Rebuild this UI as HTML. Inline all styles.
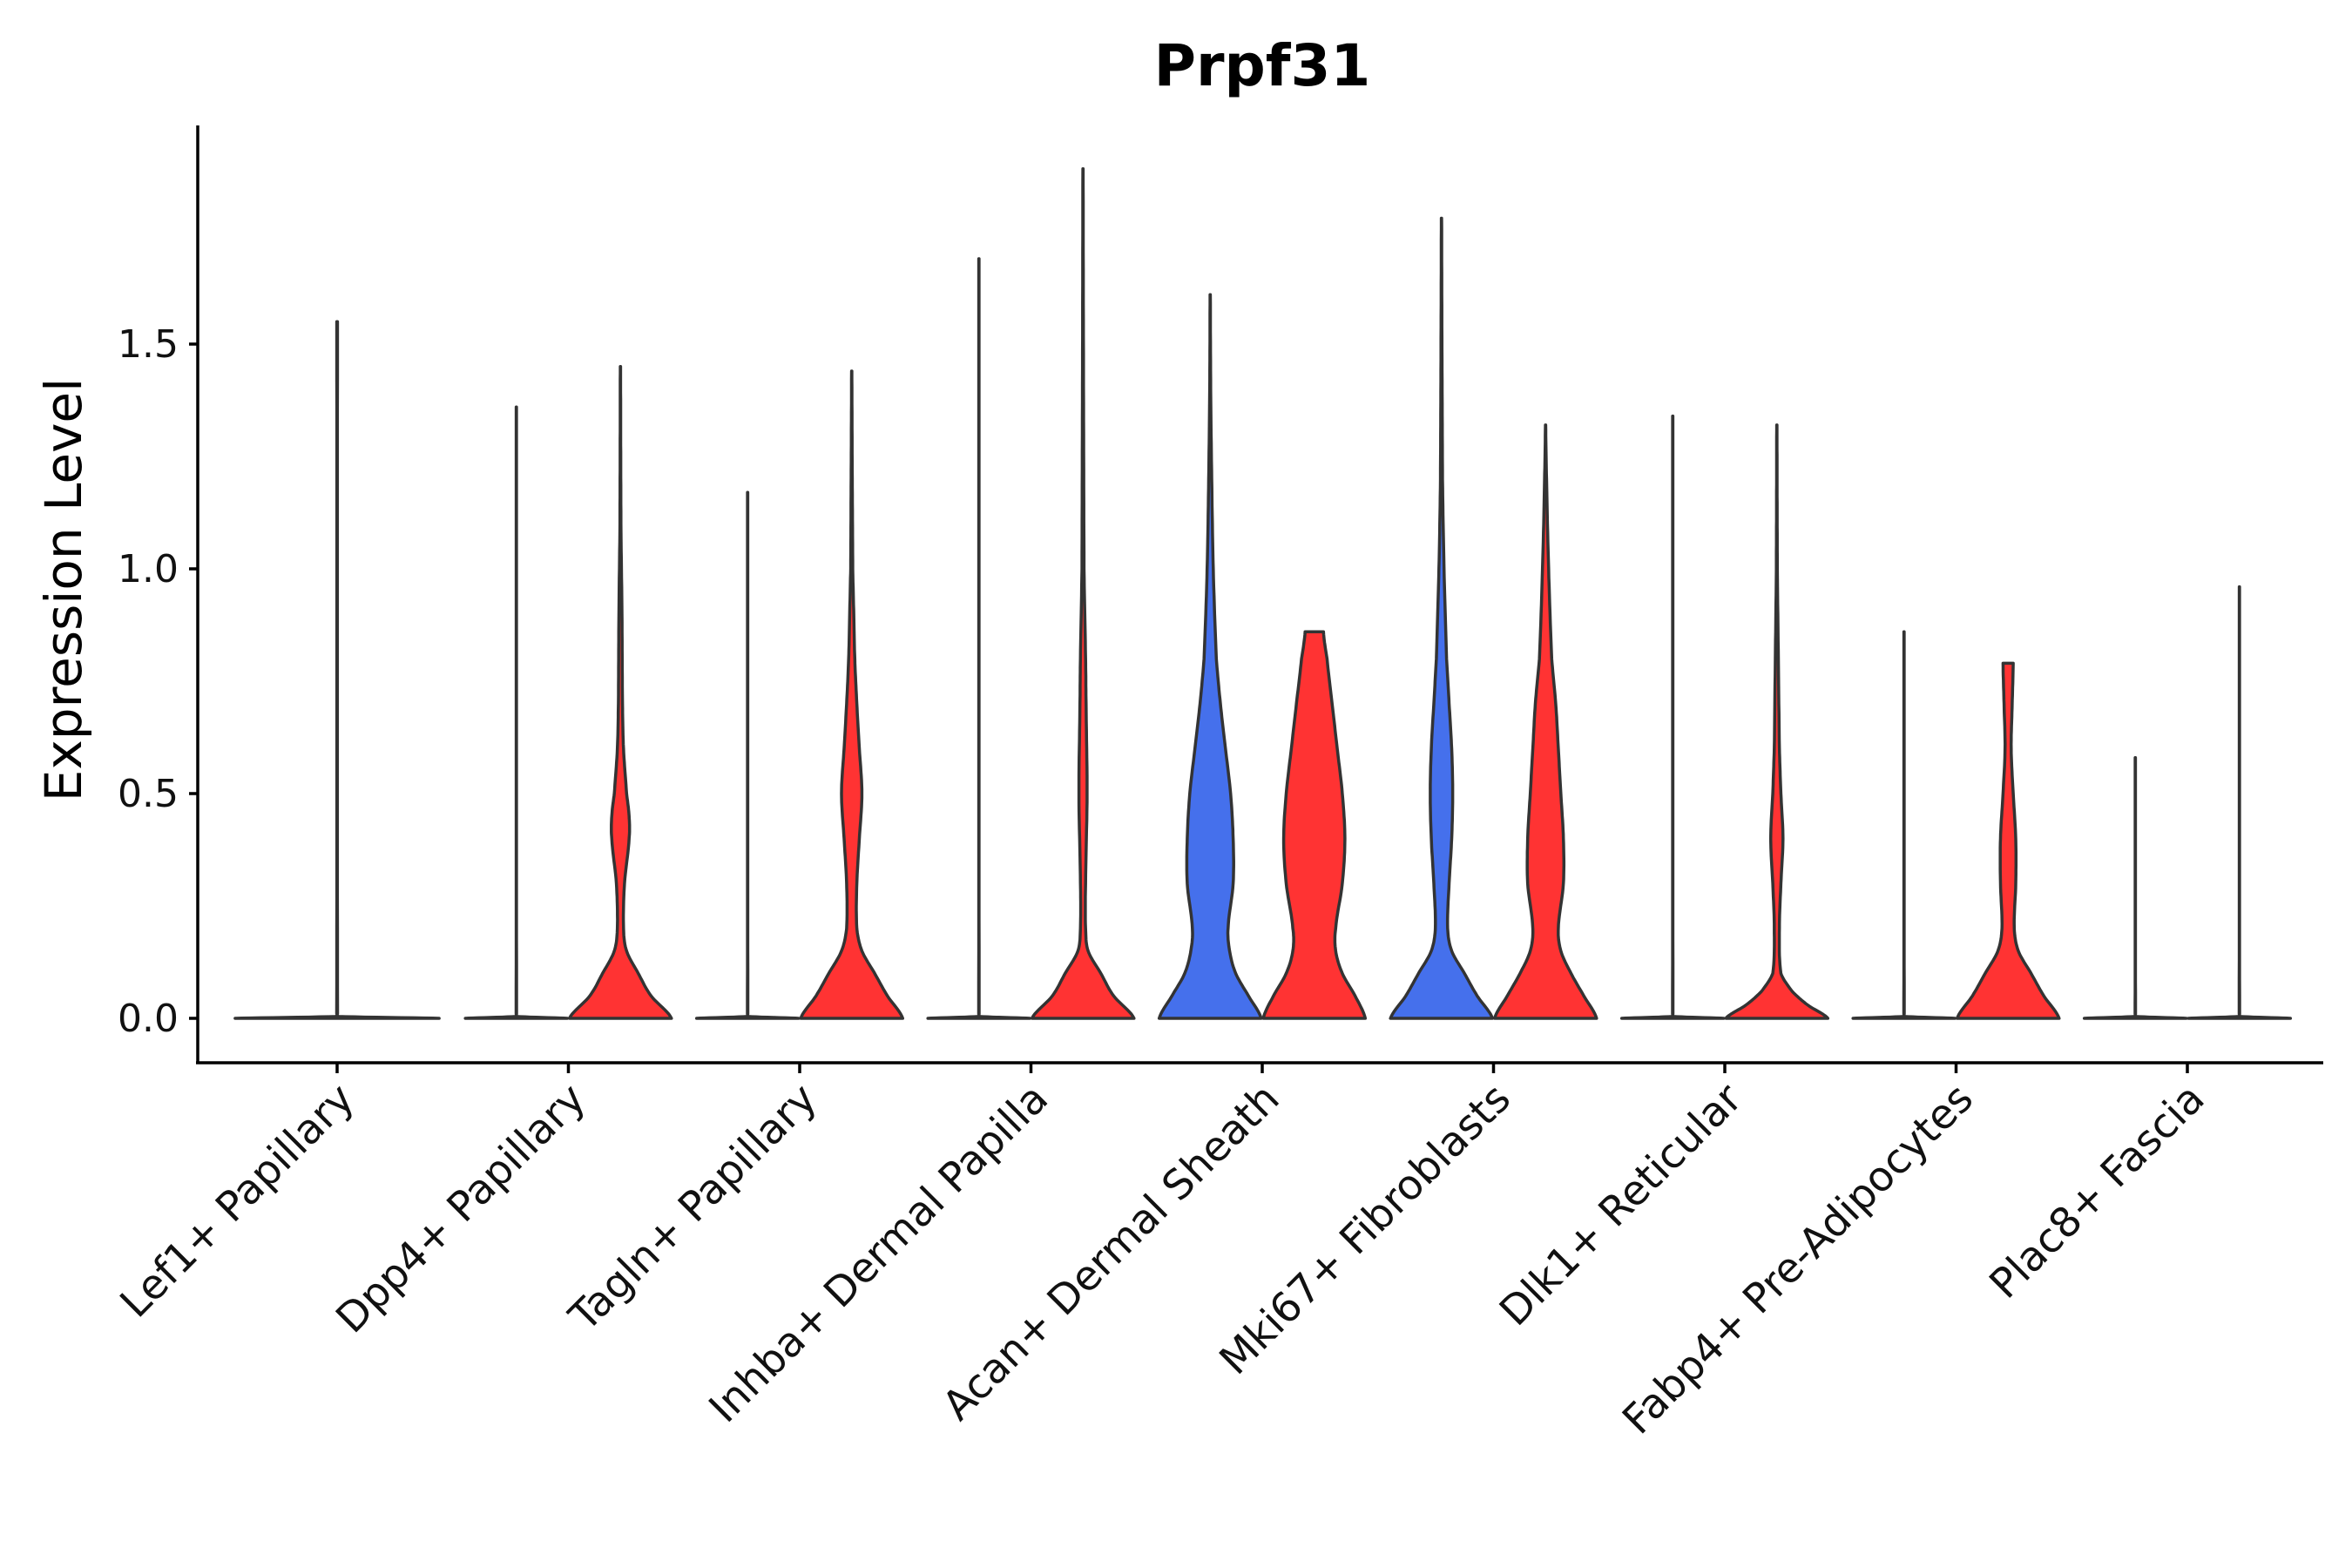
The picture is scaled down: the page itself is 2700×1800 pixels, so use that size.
<!DOCTYPE html>
<html><head><meta charset="utf-8"><style>
html,body{margin:0;padding:0;background:#fff}
svg{display:block;font-family:"DejaVu Sans","Liberation Sans",sans-serif}
</style></head><body>
<svg id="chart" width="2700" height="1800" viewBox="0 0 2700 1800" xmlns="http://www.w3.org/2000/svg">
<rect width="2700" height="1800" fill="#fff"/>
<text x="1449" y="98" text-anchor="middle" font-size="66" font-weight="bold">Prpf31</text>
<text transform="translate(93,677) rotate(-90)" text-anchor="middle" font-size="58">Expression Level</text>
<g id="axes"></g>
<g id="marks"></g>
</svg>
<script>
const categories = ["Lef1+ Papillary","Dpp4+ Papillary","Tagln+ Papillary","Inhba+ Dermal Papilla","Acan+ Dermal Sheath","Mki67+ Fibroblasts","Dlk1+ Reticular","Fabp4+ Pre-Adipocytes","Plac8+ Fascia"];
const yTicks = [0, 0.5, 1.0, 1.5];
const yTickLabels = ["0.0","0.5","1.0","1.5"];
const violinCat = [0,1,1,2,2,3,3,4,4,5,5,6,6,7,7,8,8];
const violinGroup = [-1,0,1,0,1,0,1,0,1,0,1,0,1,0,1,0,1];
const violinMax = [1.55,1.36,1.45,1.17,1.44,1.69,1.89,1.61,0.86,1.78,1.32,1.34,1.32,0.86,0.79,0.58,0.96];
const violinFill = ["#fff","#fff","#FF3333","#fff","#FF3333","#fff","#FF3333","#4570EC","#FF3333","#4570EC","#FF3333","#fff","#FF3333","#fff","#FF3333","#fff","#fff"];
const flatLevels = [0,0.004,0.01];
const flatWidths = [1,0.02,0.004];
const violinLevels = [
 flatLevels, flatLevels,
 [0,0.05,0.1,0.15,0.2,0.3,0.4,0.45,0.5,0.6,0.7,0.9,1.1],
 flatLevels,
 [0,0.05,0.1,0.15,0.2,0.3,0.4,0.5,0.6,0.7,0.8,0.9,1.0],
 flatLevels,
 [0,0.05,0.1,0.15,0.2,0.3,0.5,0.7,0.8,1.0],
 [0,0.05,0.1,0.15,0.2,0.3,0.4,0.5,0.6,0.7,0.8,1.0,1.2,1.4],
 [0,0.05,0.1,0.15,0.2,0.3,0.4,0.5,0.6,0.7,0.8,0.86],
 [0,0.05,0.1,0.15,0.2,0.3,0.4,0.5,0.6,0.7,0.8,1.0,1.2],
 [0,0.05,0.1,0.15,0.2,0.3,0.4,0.5,0.6,0.7,0.8,1.0,1.2],
 flatLevels,
 [0,0.03,0.06,0.1,0.2,0.3,0.4,0.5,0.6,0.8,1.0],
 flatLevels,
 [0,0.05,0.1,0.15,0.2,0.3,0.4,0.5,0.6,0.7,0.79],
 flatLevels, flatLevels
];
const violinWidths = [
 flatWidths, flatWidths,
 [1,0.6,0.35,0.12,0.06,0.08,0.17,0.17,0.12,0.06,0.04,0.03,0.01],
 flatWidths,
 [1,0.7,0.45,0.2,0.1,0.1,0.15,0.2,0.15,0.1,0.06,0.04,0.02],
 flatWidths,
 [1,0.6,0.35,0.1,0.05,0.05,0.08,0.06,0.05,0.02],
 [1,0.75,0.5,0.38,0.35,0.45,0.45,0.4,0.3,0.2,0.12,0.06,0.03,0.01],
 [1,0.8,0.55,0.42,0.42,0.55,0.6,0.55,0.45,0.35,0.25,0.18],
 [1,0.7,0.45,0.2,0.12,0.15,0.2,0.22,0.2,0.15,0.1,0.05,0.02],
 [1,0.75,0.5,0.3,0.25,0.35,0.35,0.3,0.25,0.2,0.12,0.06,0.02],
 flatWidths,
 [1,0.6,0.3,0.08,0.05,0.08,0.12,0.08,0.05,0.03,0.01],
 flatWidths,
 [1,0.7,0.45,0.2,0.12,0.15,0.15,0.1,0.06,0.08,0.1],
 flatWidths, flatWidths
];
</script>
<script>
const NS="http://www.w3.org/2000/svg";
const X0=387, DX=265.5, Y0=1169, YPX=516;
function xScale(i){return X0+i*DX;}
function yScale(v){return Y0-v*YPX;}
const axes=document.getElementById('axes'), marks=document.getElementById('marks');
function mk(tag,attrs,parent){const e=document.createElementNS(NS,tag);for(const k in attrs)e.setAttribute(k,attrs[k]);parent.appendChild(e);return e;}
let a=mk('line',{x1:227,y1:144,x2:227,y2:1220,stroke:'#000','stroke-width':3.5},axes);


a=mk('line',{x1:225,y1:1220,x2:2667,y2:1220,stroke:'#000','stroke-width':3.5},axes);


yTicks.forEach((v,i)=>{
  const y=yScale(v);
  const t=mk('line',{x1:217,y1:y,x2:227,y2:y,stroke:'#000','stroke-width':3.5},axes);
  
  
  const l=mk('text',{x:205,y:y+15,'text-anchor':'end','font-size':44,fill:'#111'},axes);
  l.textContent=yTickLabels[i];
  
  
});
categories.forEach((c,i)=>{
  const x=xScale(i);
  const t=mk('line',{x1:x,y1:1220,x2:x,y2:1232,stroke:'#000','stroke-width':3.5},axes);
  
  
  const l=mk('text',{transform:`translate(${x+22},${1264}) rotate(-45)`,'text-anchor':'end','font-size':47,fill:'#111'},axes);
  l.textContent=c;
  
  
});
const HALF=DX*0.225;
violinCat.forEach((ci,k)=>{
  const g=violinGroup[k];
  const cx = g<0 ? xScale(ci) : xScale(ci)+(g===0?-HALF:HALF);
  const hw = g<0 ? HALF*2*0.98 : HALF*0.98;
  const lv=violinLevels[k].slice(), wd=violinWidths[k].slice();
  const mx=violinMax[k];
  if(lv[lv.length-1]<mx){lv.push(mx);wd.push(lv.length>4&&wd[wd.length-1]>0.05?wd[wd.length-1]:0.003);}
  const n=lv.length, pts=[];
  const W=i=>wd[Math.max(0,Math.min(n-1,i))];
  const L=i=>lv[Math.max(0,Math.min(n-1,i))];
  for(let i=0;i<n-1;i++){
    const steps = (lv[i+1]-lv[i])>0.3?24:10;
    for(let s=0;s<steps;s++){const t=s/steps;
      const p0=W(i-1),p1=W(i),p2=W(i+1),p3=W(i+2);
      let w=0.5*((2*p1)+(-p0+p2)*t+(2*p0-5*p1+4*p2-p3)*t*t+(-p0+3*p1-3*p2+p3)*t*t*t);
      w=Math.max(Math.min(w,1),0.002);
      pts.push([L(i)+(L(i+1)-L(i))*t,w]);}
  }
  pts.push([lv[n-1],wd[n-1]]);
  let d='';
  pts.forEach((p,i)=>{d+=(i?'L':'M')+(cx+p[1]*hw).toFixed(1)+','+yScale(p[0]).toFixed(1);});
  for(let i=pts.length-1;i>=0;i--){const p=pts[i];d+='L'+(cx-p[1]*hw).toFixed(1)+','+yScale(p[0]).toFixed(1);}
  d+='Z';
  const v=mk('path',{d:d,fill:violinFill[k],stroke:'#333','stroke-width':3.5,'stroke-linejoin':'round'},marks);
  
  
});
</script>
</body></html>
